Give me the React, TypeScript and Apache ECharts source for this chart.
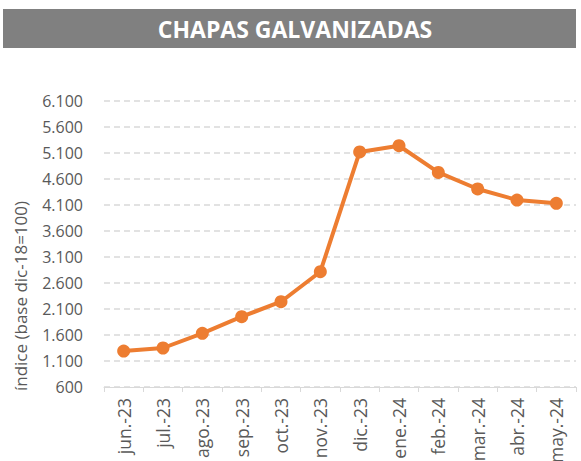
import React, { useEffect, useRef } from "react";
import * as echarts from "echarts";

const categories = ["jun.-23", "jul.-23", "ago.-23", "sep.-23", "oct.-23", "nov.-23", "dic.-23", "ene.-24", "feb.-24", "mar.-24", "abr.-24", "may.-24"];
const values = [1292, 1350, 1633, 1952, 2240, 2817, 5120, 5240, 4727, 4408, 4196, 4133];
const yMin = 600;
const yMax = 6100;
const yInterval = 500;
const title = "CHAPAS GALVANIZADAS";
const yAxisName = "índice (base dic-18=100)";

const fmt = (v: number) => v.toLocaleString("de-DE");

export default function App() {
  const ref = useRef<HTMLDivElement>(null);
  useEffect(() => {
    if (!ref.current) return;
    const chart = echarts.init(ref.current, null, { renderer: "svg" });
    chart.setOption({
      animation: false,
      textStyle: { fontFamily: "Open Sans" },
      graphic: [
        { type: "rect", shape: { x: 3, y: 9, width: 573, height: 39 }, style: { fill: "#808080" } },
        {
          type: "text",
          x: 295,
          y: 29,
          style: {
            text: title,
            fill: "#ffffff",
            font: "bold 23px 'Open Sans'",
            align: "center",
            verticalAlign: "middle",
          },
        },
        {
          type: "text",
          x: 20,
          y: 296,
          rotation: Math.PI / 2,
          style: {
            text: yAxisName,
            fill: "#595959",
            font: "17px 'Open Sans'",
            align: "center",
            verticalAlign: "middle",
          },
        },
      ],
      grid: { left: 104, right: 5, top: 101, bottom: 74, outerBoundsMode: "none", containLabel: false },
      xAxis: {
        type: "category",
        data: categories,
        boundaryGap: true,
        axisLine: { lineStyle: { color: "#d9d9d9", width: 1 } },
        axisTick: { show: true, length: 5, lineStyle: { color: "#d9d9d9" } },
        axisLabel: { rotate: 90, color: "#595959", fontSize: 17.5, margin: 11, interval: 0 },
      },
      yAxis: {
        type: "value",
        min: yMin,
        max: yMax,
        interval: yInterval,
        axisLine: { show: false },
        axisTick: { show: false },
        axisLabel: { color: "#595959", fontSize: 16, margin: 21, formatter: (v: number) => fmt(v) },
        splitLine: { lineStyle: { color: "#d9d9d9", type: [6, 4], width: 1.5 } },
      },
      series: [
        {
          type: "line",
          data: values,
          color: "#ED7D31",
          lineStyle: { width: 4, color: "#ED7D31" },
          symbol: "circle",
          symbolSize: 13,
          itemStyle: { color: "#ED7D31" },
        },
      ],
    });
    return () => chart.dispose();
  }, []);
  return <div ref={ref} style={{ width: 581, height: 461, position: "absolute", left: 0, top: 0 }} />;
}
